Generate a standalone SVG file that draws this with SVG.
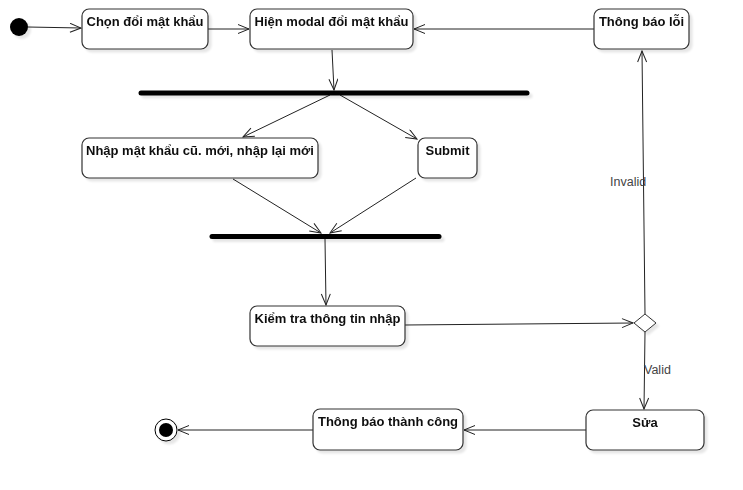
<svg xmlns="http://www.w3.org/2000/svg" width="743" height="490" viewBox="0 0 743 490">
<style>
.box{fill:#fff;stroke:#333;stroke-width:1.2}
.t{font-family:"Liberation Sans",Arial,sans-serif;font-size:13px;font-weight:bold;fill:#111;text-anchor:middle}
.lbl{font-family:"Liberation Sans",Arial,sans-serif;font-size:12.5px;fill:#444}
.c{fill:none;stroke:#222;stroke-width:1;marker-end:url(#arr)}
.bar{stroke:#000;stroke-width:5;stroke-linecap:round}
</style>
<defs>
<filter id="sh" filterUnits="userSpaceOnUse" x="0" y="0" width="743" height="490">
<feGaussianBlur in="SourceAlpha" stdDeviation="1"/>
<feOffset dx="3" dy="3"/>
<feComponentTransfer><feFuncA type="linear" slope="0.1"/></feComponentTransfer>
<feMerge><feMergeNode/><feMergeNode in="SourceGraphic"/></feMerge>
</filter>
<marker id="arr" markerUnits="userSpaceOnUse" markerWidth="13" markerHeight="11" refX="12" refY="5" orient="auto">
<path d="M1,0.5 L12,5 L1,9.5" fill="none" stroke="#222" stroke-width="1"/>
</marker>
</defs>
<rect width="743" height="490" fill="#fff"/>
<g id="connectors">
<path class="c" d="M28,27 L81,28"/>
<path class="c" d="M208,29 L249,29"/>
<path class="c" d="M594,29 L414,29"/>
<path class="c" d="M332,50 L334,90"/>
<path class="c" d="M330,95 L243,137"/>
<path class="c" d="M340,95 L417,139"/>
<path class="c" d="M233,179 L321,233"/>
<path class="c" d="M416,178 L330,233"/>
<path class="c" d="M325,239 L326,305"/>
<path class="c" d="M405,325 L633,323"/>
<path class="c" d="M645,314 L642,51"/>
<path class="c" d="M645,332 L644,409"/>
<path class="c" d="M586,430 L464,430"/>
<path class="c" d="M313,430 L178,430"/>
<text class="lbl" x="610" y="186">Invalid</text>
<text class="lbl" x="644" y="374">Valid</text>
</g>
<g id="start" filter="url(#sh)"><circle cx="19" cy="27" r="9" fill="#000"/></g>
<g id="chon" filter="url(#sh)"><rect class="box" x="82" y="9" width="126" height="40" rx="7"/><text class="t" x="145" y="26">Chọn đổi mật khẩu</text></g>
<g id="hien" filter="url(#sh)"><rect class="box" x="250" y="9" width="163" height="40" rx="7"/><text class="t" x="331.5" y="26">Hiện modal đổi mật khẩu</text></g>
<g id="loi" filter="url(#sh)"><rect class="box" x="594" y="9" width="95" height="40" rx="7"/><text class="t" x="641.5" y="26">Thông báo lỗi</text></g>
<g id="fork" filter="url(#sh)"><line class="bar" x1="141" y1="93" x2="527" y2="93"/></g>
<g id="nhap" filter="url(#sh)"><rect class="box" x="82" y="138" width="236" height="40" rx="7"/><text class="t" x="200" y="155">Nhập mật khẩu cũ. mới, nhập lại mới</text></g>
<g id="submit" filter="url(#sh)"><rect class="box" x="418" y="138" width="59" height="40" rx="7"/><text class="t" x="447.5" y="155">Submit</text></g>
<g id="join" filter="url(#sh)"><line class="bar" x1="212" y1="236.5" x2="439" y2="236.5"/></g>
<g id="kiem" filter="url(#sh)"><rect class="box" x="250" y="306" width="155" height="40" rx="7"/><text class="t" x="327.5" y="323">Kiểm tra thông tin nhập</text></g>
<g id="decision" filter="url(#sh)"><path d="M645,314 L656,323 L645,332 L634,323 Z" fill="#fff" stroke="#333" stroke-width="1"/></g>
<g id="sua" filter="url(#sh)"><rect class="box" x="586" y="410" width="118" height="40" rx="7"/><text class="t" x="645" y="427">Sửa</text></g>
<g id="thanhcong" filter="url(#sh)"><rect class="box" x="313" y="409" width="150" height="41" rx="7"/><text class="t" x="388" y="426">Thông báo thành công</text></g>
<g id="end" filter="url(#sh)"><circle cx="166" cy="430" r="11" fill="#fff" stroke="#000" stroke-width="1"/><circle cx="166" cy="430" r="7" fill="#000"/></g>
</svg>
